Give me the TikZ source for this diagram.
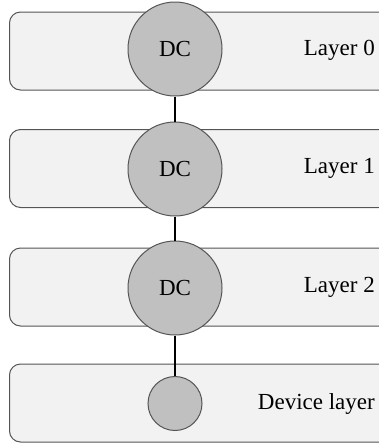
\documentclass[tikz,border=0pt]{standalone}
\usepackage{fontspec}
\setmainfont{Liberation Serif}
\usetikzlibrary{positioning}

\definecolor{boxfill}{HTML}{F2F2F2}
\definecolor{dcfill}{HTML}{C0C0C0}
\definecolor{edge}{HTML}{555555}

\tikzset{
  layerbox/.style={draw=edge,fill=boxfill,line width=1pt,rounded corners=11pt,
    minimum width=384pt,minimum height=78pt,anchor=west,inner sep=0pt},
  dcnode/.style={circle,draw=edge,fill=dcfill,line width=1pt,minimum size=94pt,
    inner sep=0pt,font=\fontsize{23}{25}\selectfont},
  devnode/.style={dcnode,minimum size=54pt},
  layertext/.style={anchor=east,inner sep=0pt,font=\fontsize{23}{25}\selectfont},
  link/.style={black,line width=2pt}
}

\begin{document}
\begin{tikzpicture}[x=1pt,y=-1pt]
            \useasboundingbox (0,0) rectangle (379,445);
            \clip (0,0) rectangle (379,445);

            % layers
            \node[layerbox] (l0) at (9,51){};
            \node[layerbox] (l1) at (9,168.5){};
            \node[layerbox] (l2) at (9,287){};
            \node[layerbox] (ld) at (9,403){};

            % data centres
            \node[dcnode] (dc0) at (175,49){DC};
            \node[dcnode] (dc1) at (175,169){DC};
            \node[dcnode] (dc2) at (175,288){DC};
            \node[devnode] (dev) at (175,403.5){};

            \node[layertext] (t0) at (375,50){Layer 0};
            \node[layertext] (t1) at (375,168){Layer 1};
            \node[layertext] (t2) at (375,287){Layer 2};
            \node[layertext] (td) at (375,404){Device layer};

            \draw[link] (dc0) -- (dc1);
            \draw[link] (dc1) -- (dc2);
            \draw[link] (dc2) -- (dev);
\end{tikzpicture}
\end{document}
